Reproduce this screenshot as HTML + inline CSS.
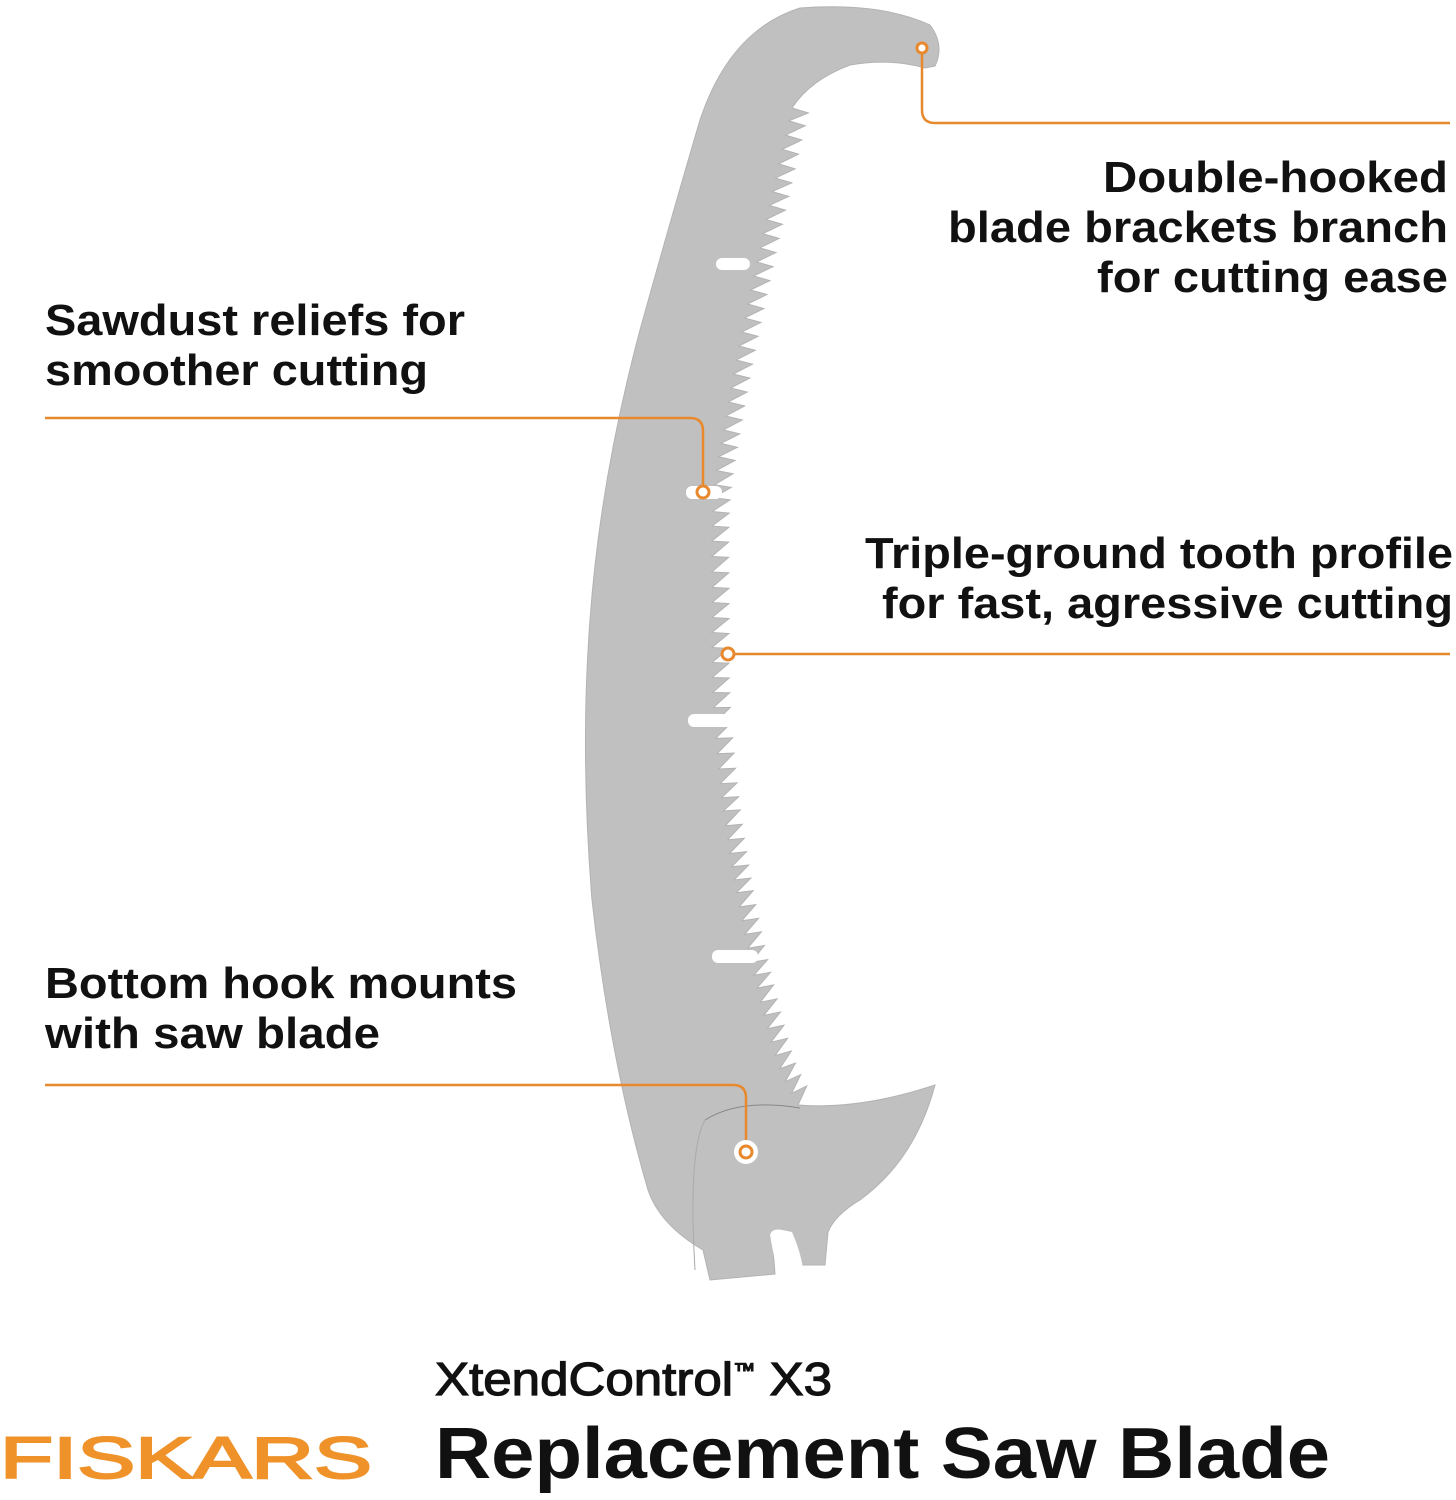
<!DOCTYPE html>
<html><head><meta charset="utf-8"><style>
html,body{margin:0;padding:0;background:#fff;}
svg{display:block}
text{font-family:"Liberation Sans",sans-serif;fill:#111;}
</style></head><body>
<svg id="s" width="1456" height="1500" viewBox="0 0 1456 1500" xmlns="http://www.w3.org/2000/svg">
<path id="blade" fill="#c0c0c0" stroke="#b3b3b3" stroke-width="1" d=""/>
<g fill="#fff">
<rect x="716" y="258" width="34" height="12" rx="6"/>
<rect x="686" y="486" width="36" height="13" rx="6"/>
<rect x="688" y="714" width="46" height="13" rx="6"/>
<rect x="712" y="950" width="46" height="13" rx="6"/>
<path d="M770 1235 Q772 1228 782 1230 L792 1232 Q800 1250 803 1268 L778 1278 Z"/>
</g>
<path d="M705 1120 Q740 1098 800 1108" fill="none" stroke="#888" stroke-width="1"/>
<path d="M705 1120 Q688 1150 695 1270" fill="none" stroke="#aaa" stroke-width="1"/>
<g fill="none" stroke="#e8892e" stroke-width="2.5">
<path d="M922 50 V110 Q922 123 935 123 H1450"/>
<path d="M45 418 H690 Q703 418 703 431 V487"/>
<path d="M733 654 H1450"/>
<path d="M45 1085 H733 Q746 1085 746 1098 V1146"/>
</g>
<g fill="#fff" stroke="#e8892e" stroke-width="3">
<circle cx="922" cy="48" r="5"/>
<circle cx="703" cy="492" r="6"/>
<circle cx="728" cy="654" r="6"/>
<circle cx="746" cy="1152" r="10" stroke="#fff" stroke-width="4"/>
<circle cx="746" cy="1152" r="6"/>
</g>
<g font-weight="bold" font-size="44">
<text x="1103" y="192" textLength="345" lengthAdjust="spacingAndGlyphs">Double-hooked</text>
<text x="948" y="242" textLength="500" lengthAdjust="spacingAndGlyphs">blade brackets branch</text>
<text x="1097" y="292" textLength="351" lengthAdjust="spacingAndGlyphs">for cutting ease</text>
<text x="45" y="335" textLength="420" lengthAdjust="spacingAndGlyphs">Sawdust reliefs for</text>
<text x="45" y="385" textLength="383" lengthAdjust="spacingAndGlyphs">smoother cutting</text>
<text x="865" y="568" textLength="588" lengthAdjust="spacingAndGlyphs">Triple-ground tooth profile</text>
<text x="882" y="618" textLength="571" lengthAdjust="spacingAndGlyphs">for fast, agressive cutting</text>
<text x="45" y="998" textLength="472" lengthAdjust="spacingAndGlyphs">Bottom hook mounts</text>
<text x="45" y="1048" textLength="335" lengthAdjust="spacingAndGlyphs">with saw blade</text>
</g>
<text x="435" y="1395" font-size="46" stroke="#111" stroke-width="1.2" textLength="397" lengthAdjust="spacingAndGlyphs">XtendControl<tspan font-size="20" dy="-18">™</tspan><tspan dy="18"> X3</tspan></text>
<text x="435" y="1478" font-size="72" font-weight="bold" textLength="895" lengthAdjust="spacingAndGlyphs">Replacement Saw Blade</text>
<text x="0" y="1478" font-size="58" textLength="372" lengthAdjust="spacingAndGlyphs" style="fill:#f0922a;stroke:#f0922a;stroke-width:2">FISKARS</text>
</svg>
<script>
(function(){
var base=[[792,108],[775,180],[757,260],[740,340],[725,420],[713,500],[712,600],[713,700],[722,800],[734,880],[748,950],[765,1020],[780,1070],[798,1105]];
function cr(p0,p1,p2,p3,t){var t2=t*t,t3=t2*t;return [0.5*((2*p1[0])+(-p0[0]+p2[0])*t+(2*p0[0]-5*p1[0]+4*p2[0]-p3[0])*t2+(-p0[0]+3*p1[0]-3*p2[0]+p3[0])*t3),0.5*((2*p1[1])+(-p0[1]+p2[1])*t+(2*p0[1]-5*p1[1]+4*p2[1]-p3[1])*t2+(-p0[1]+3*p1[1]-3*p2[1]+p3[1])*t3)];}
var dense=[];
for(var i=0;i<base.length-1;i++){var p0=base[Math.max(0,i-1)],p1=base[i],p2=base[i+1],p3=base[Math.min(base.length-1,i+2)];for(var k=0;k<40;k++)dense.push(cr(p0,p1,p2,p3,k/40));}
dense.push(base[base.length-1]);
var step=13,pts=[dense[0]],acc=0;
for(var i=1;i<dense.length;i++){var dx=dense[i][0]-dense[i-1][0],dy=dense[i][1]-dense[i-1][1],d=Math.hypot(dx,dy);acc+=d;if(acc>=step){pts.push(dense[i]);acc=0;}}
var d="M792 108 ";
for(var i=0;i<pts.length-1;i++){
 var a=pts[i],b=pts[i+1];var tx=b[0]-a[0],ty=b[1]-a[1],L=Math.hypot(tx,ty);tx/=L;ty/=L;
 var nx=-ty,ny=tx;
 if(nx<0){nx=-nx;ny=-ny;}
 var depth=17;
 var tip=[a[0]+nx*depth+tx*1,a[1]+ny*depth+ty*1];
 d+="L"+tip[0].toFixed(1)+" "+tip[1].toFixed(1)+" L"+b[0].toFixed(1)+" "+b[1].toFixed(1)+" ";
}
d+="Q860 1110 935 1085 Q915 1160 860 1200 Q835 1215 828 1232 L825 1265 L800 1265 L790 1232 L772 1234 L775 1274 L710 1280 L703 1250 Q660 1225 648 1190 Q610 1060 592 900 Q580 750 590 620 Q600 480 640 330 Q672 215 700 120 Q730 30 800 8 Q880 2 930 25 Q945 45 935 66 L925 68 Q890 58 850 65 Q810 80 792 108 Z";
document.getElementById('blade').setAttribute('d',d);
})();
</script>
</body></html>
